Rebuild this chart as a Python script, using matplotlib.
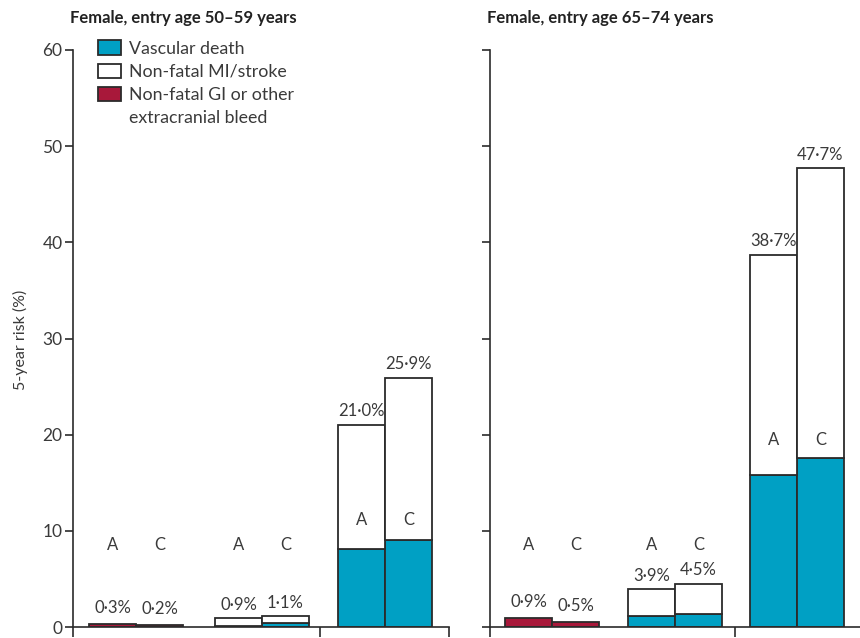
import matplotlib.pyplot as plt
from matplotlib.patches import Patch

plt.rcParams['font.family'] = ['Lato', 'DejaVu Sans']

# Data: 5-year risk (%) for arms A and C
arms = ['A', 'C']

left_title = 'Female, entry age 50–59 years'
left_bleed = [0.3, 0.2]
left_mid_vascular = [0.1, 0.4]
left_mid_total = [0.9, 1.1]
left_high_vascular = [8.1, 9.0]
left_high_total = [21.0, 25.9]

right_title = 'Female, entry age 65–74 years'
right_bleed = [0.9, 0.5]
right_mid_vascular = [1.1, 1.35]
right_mid_total = [3.9, 4.5]
right_high_vascular = [15.8, 17.6]
right_high_total = [38.7, 47.7]

TEAL = '#00A0C4'
CRIMSON = '#A8183A'
EDGE = '#2b2b2b'
TXT = '#3a3a3a'


def pct(v):
    return f'{v:.1f}%'.replace('.', '·')


def draw_panel(ax, starts, bleed, mid_vasc, mid_total, high_vasc, high_total, letter_y):
    kw = dict(width=1.0, align='edge', edgecolor=EDGE, linewidth=1.3)
    # group 1: bleeding
    xs = [starts[0] + i for i in range(2)]
    ax.bar(xs, bleed, color=CRIMSON, **kw)
    for x, v in zip(xs, bleed):
        ax.annotate(pct(v), (x + 0.5, v), xytext=(0, 6), textcoords='offset points',
                    ha='center', va='bottom', fontsize=12, color=TXT)
    # groups 2 and 3: vascular death + non-fatal MI/stroke stacked
    for start, vasc, total in [(starts[1], mid_vasc, mid_total),
                               (starts[2], high_vasc, high_total)]:
        xs = [start + i for i in range(2)]
        ax.bar(xs, vasc, color=TEAL, **kw)
        ax.bar(xs, [t - v for t, v in zip(total, vasc)], bottom=vasc, color='white', **kw)
        for x, t in zip(xs, total):
            ax.annotate(pct(t), (x + 0.5, t), xytext=(0, 4), textcoords='offset points',
                        ha='center', va='bottom', fontsize=12, color=TXT)
    for start, ly in zip(starts, letter_y):
        for i, a in enumerate(arms):
            ax.text(start + i + 0.5, ly, a, ha='center', va='center', fontsize=12, color=TXT)

    ax.set_xlim(0, 8)
    ax.set_ylim(0, 60)
    ax.set_yticks(range(0, 61, 10))
    ax.spines[['top', 'right']].set_visible(False)
    for s in ['left', 'bottom']:
        ax.spines[s].set_linewidth(1.2)
        ax.spines[s].set_color(EDGE)
    ax.tick_params(axis='y', direction='out', length=5.5, width=1.2, color=EDGE,
                   labelsize=12.5, labelcolor=TXT, pad=2)
    ax.tick_params(axis='x', direction='out', length=7, width=1.2, color=EDGE,
                   labelbottom=False)


fig = plt.figure(figsize=(8.6, 6.38), dpi=100)
ax1 = fig.add_axes([73 / 860, 11 / 638, 376 / 860, 577 / 638])
ax2 = fig.add_axes([490 / 860, 11 / 638, 376 / 860, 577 / 638])

draw_panel(ax1, [0.34, 3.02, 5.64], left_bleed, left_mid_vascular, left_mid_total,
           left_high_vascular, left_high_total, [8.5, 8.5, 11.1])
ax1.set_xticks([0, 5.26, 8])

draw_panel(ax2, [0.32, 2.94, 5.53], right_bleed, right_mid_vascular, right_mid_total,
           right_high_vascular, right_high_total, [8.5, 8.5, 19.4])
ax2.set_xticks([0, 5.22, 8])
ax2.tick_params(axis='y', labelleft=False)

# legend; the bleed label wraps onto a second row with no swatch
handles = [Patch(facecolor=TEAL, edgecolor=EDGE, linewidth=1.3),
           Patch(facecolor='white', edgecolor=EDGE, linewidth=1.3),
           Patch(facecolor=CRIMSON, edgecolor=EDGE, linewidth=1.3),
           Patch(visible=False)]
labels = ['Vascular death', 'Non-fatal MI/stroke', 'Non-fatal GI or other', 'extracranial bleed']
leg = ax1.legend(handles, labels, loc='upper left', bbox_to_anchor=(0.047, 1.029),
                 frameon=False, fontsize=12.8, handlelength=1.3, handleheight=0.85,
                 handletextpad=0.45, labelspacing=0.39, borderaxespad=0)
for t in leg.get_texts():
    t.set_color(TXT)

fig.text(70 / 860, 1 - 18 / 638, left_title, fontweight='bold', fontsize=12,
         va='center', ha='left', color='#222222')
fig.text(487 / 860, 1 - 18 / 638, right_title, fontweight='bold', fontsize=12,
         va='center', ha='left', color='#222222')
fig.text(20 / 860, 1 - 340 / 638, '5-year risk (%)', rotation=90, fontsize=11.5,
         va='center', ha='center', color=TXT)

fig.savefig('out.png', dpi=100)
